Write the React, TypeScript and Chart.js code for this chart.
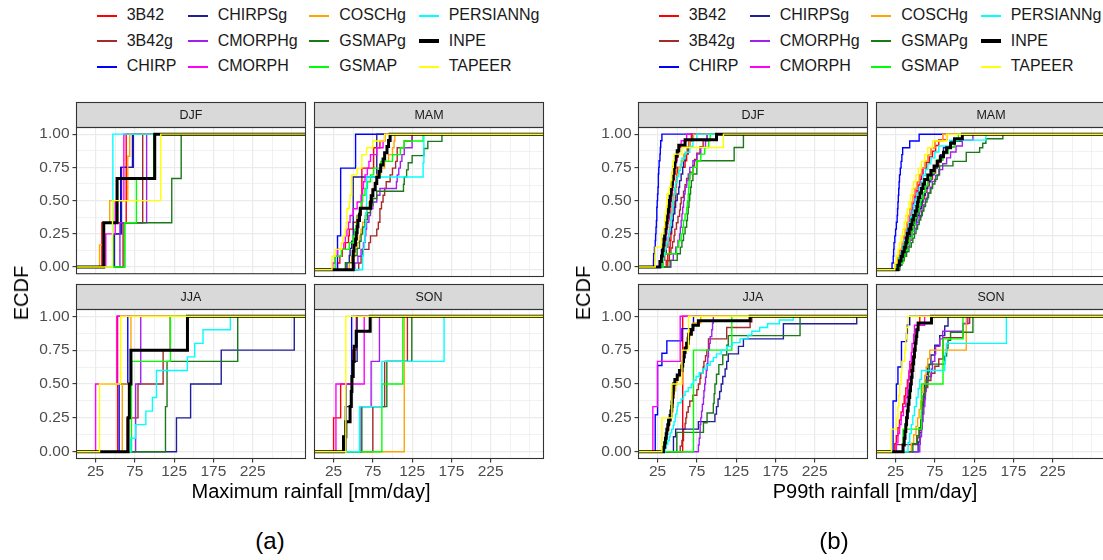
import React, { useEffect, useRef } from "react";
import { Chart, registerables } from "chart.js";

Chart.register(...registerables);

const FONT = "'Liberation Sans', Arial, Helvetica, sans-serif";

// ---------- data ----------
const SERIES = ["3B42", "3B42g", "CHIRP", "CHIRPSg", "CMORPHg", "CMORPH", "COSCHg", "GSMAPg", "GSMAP", "PERSIANNg", "INPE", "TAPEER"];
const SEASONS = ["DJF", "MAM", "JJA", "SON"];

const X_GRID = [25, 50, 75, 100, 125, 150, 175, 200, 225, 250, 275];
const X_LABELS = [25, 75, 125, 175, 225];
const Y_GRID = [0, 0.125, 0.25, 0.375, 0.5, 0.625, 0.75, 0.875, 1];
const Y_LABELS = [0, 0.25, 0.5, 0.75, 1];
const X_LIMITS = [0.7, 292.3];
const Y_LIMITS = [-0.05, 1.05];

// sample values per series (order of SERIES) -- Maximum rainfall
const MAX_DJF = [
  [33, 64, 64],
  [60, 85, 85],
  [48, 57, 57, 72],
  [49, 58, 58, 73],
  [56, 90, 90],
  [38, 50, 61, 61],
  [30, 35, 43, 66, 66, 68.5],
  [62, 122, 134],
  [62, 77, 99],
  [47, 47, 47],
  [35.4, 52.4, 100.3],
  [46.5, 108],
];
const MAX_MAM = [
  [30, 33, 36, 40, 44, 45, 50, 55, 60, 61, 61, 61, 61, 61, 61, 76, 76, 76, 84, 90],
  [57, 60, 62, 70, 72, 80, 82, 84, 84, 86, 88, 90, 92, 97, 100, 104, 106, 106, 115, 125],
  [30, 30, 30, 30, 34, 34, 34, 34, 34, 34, 34, 34, 53, 53, 53, 53],
  [42, 45, 46, 48, 50, 50, 50, 50, 50, 50, 50, 50, 50, 80, 80, 80, 80, 80, 80],
  [52, 56, 60, 63, 65, 66, 67, 70, 72, 75, 80, 84, 105, 106, 108, 110, 112, 115, 125, 125],
  [24, 27, 30, 38, 40, 42, 44, 46, 50, 55, 60, 62, 63, 65, 68, 70, 72, 80, 88, 90],
  [45, 48, 52, 55, 58, 60, 62, 65, 68, 70, 72, 75, 78, 80, 85, 90, 95, 100, 102, 103],
  [40, 50, 55, 58, 60, 62, 65, 68, 72, 75, 80, 114, 115, 118, 120, 125, 140, 145, 163],
  [27, 27, 35, 45, 50, 52, 54, 56, 58, 60, 62, 65, 68, 72, 76, 85, 100, 110, 115, 139],
  [62, 62, 63, 64, 65, 65, 66, 66, 67, 67, 67, 67, 67, 139, 139, 140, 140, 140, 140],
  [50, 50, 50, 51, 53, 54, 55, 56, 58, 59, 72, 73, 75, 78, 80, 83, 85, 88, 90, 93, 95, 97],
  [23, 23, 27, 35, 37, 40, 41, 42, 42, 45, 46, 48, 48, 48, 55, 61, 61, 67, 75, 90],
];
const MAX_JJA = [
  [53],
  [65, 79, 111, 120],
  [55, 66],
  [128, 146, 185, 278],
  [76, 82.5],
  [25, 52],
  [59, 70],
  [114, 116, 206],
  [70.7, 70.7, 120.3],
  [69.8, 76, 89, 97.4, 102.5, 102.5, 141.9, 151.2, 161.8, 196.6],
  [66.4, 68, 70, 142],
  [30, 57],
];
const MAX_SON = [
  [25, 34, 49, 54],
  [75, 90, 119],
  [41, 48],
  [40, 48, 55],
  [60, 72.8, 83.4],
  [28, 64],
  [115],
  [61, 92.8, 124.6],
  [86.5, 113.2],
  [58, 86.5, 165.7],
  [37.6, 40.6, 46, 47.5, 48.3, 50, 51.2, 53.8, 71.6],
  [40.6],
];

// P99th rainfall
const P99_DJF = [
  [36, 38, 40, 41, 42, 43, 44, 45, 46, 47, 48, 48, 49, 49, 50, 60, 62, 64, 65, 68],
  [38, 40, 42, 44, 46, 47, 49, 51, 53, 54, 55, 58, 60, 62, 66, 70, 72, 75, 79, 83, 88],
  [19.8, 20, 21, 22, 22.5, 23, 23.5, 24, 24, 24.5, 25, 25.5, 26, 26, 26.5, 27, 28, 28.5, 29, 30.5],
  [32, 34, 36, 38, 40, 42, 44, 45, 47, 48, 50, 52, 53, 55, 57, 58, 60, 63, 66, 70],
  [42, 45, 48, 51, 53, 54, 55, 56, 57, 58, 59, 60, 62, 64, 66, 70, 75, 80, 86, 88],
  [30, 32, 33, 35, 36, 37, 38, 40, 41, 42, 43, 44, 45, 46, 47, 48, 50, 52, 55, 62],
  [30, 33, 35, 37, 39, 40, 41, 42, 43, 44, 45, 47, 48, 50, 52, 55, 58, 62, 66, 70.7],
  [41, 50, 54, 56, 58, 60, 62, 63, 64, 65, 66, 67, 68, 70, 75, 75, 122.5, 122.5, 134.3, 134.3],
  [32.5, 32.5, 49, 52, 55, 57, 58, 60, 62, 63, 64, 64.5, 65, 66, 70, 75, 80, 85, 90, 92],
  [30, 32, 34, 36, 38, 40, 41, 42, 43, 44, 45, 46, 47, 48, 50, 52, 54, 56, 60, 66, 70, 75],
  [28, 30, 31, 32, 33, 34, 35, 36, 37, 38, 39, 40, 41, 42, 43, 44, 45, 46, 47, 48, 50, 52, 60, 100],
  [22, 22, 22, 30, 30, 33, 34, 35, 36, 37, 37, 40, 42, 43, 44, 45, 46, 56, 108.8, 108.8],
];
const P99_MAM = [
  [24, 28, 31, 33, 35, 37, 39, 41, 43, 45, 46, 48, 50, 52, 54, 56, 58, 60, 64, 68, 72, 76, 80, 90],
  [30, 33, 36, 38, 41, 44, 47, 50, 53, 56, 59, 62, 65, 68, 72, 76, 80, 85, 90, 100, 110],
  [20.5, 22, 22.5, 23, 24, 25, 26, 27, 27.5, 28, 28.5, 29, 29.5, 30, 31, 32, 33, 34, 43, 55],
  [30, 34, 37, 40, 43, 46, 49, 52, 55, 58, 60, 63, 66, 70, 74, 78, 82, 86, 95, 110],
  [30, 33, 36, 40, 43, 46, 49, 52, 55, 58, 60, 63, 66, 69, 72, 76, 80, 85, 90, 95, 102, 110, 123.5],
  [26, 29, 32, 35, 37, 39, 41, 43, 45, 47, 49, 51, 53, 56, 59, 62, 66, 70, 75, 85],
  [24, 27, 30, 33, 35, 37, 39, 41, 43, 45, 47, 49, 52, 55, 58, 62, 66, 70, 75, 85],
  [30, 33, 36, 39, 42, 45, 47, 49, 51, 53, 55, 57, 59, 61, 63, 65, 67, 70, 72, 75, 78, 81, 81, 98, 115, 115, 132, 136, 140, 161.6],
  [30, 34, 37, 40, 43, 46, 48, 50, 52, 55, 57, 60, 63, 66, 70, 74, 78, 85, 92, 100, 105],
  [26, 29, 32, 34, 36, 38, 40, 42, 44, 46, 48, 50, 52, 55, 58, 60, 63, 66, 70, 75, 80, 94, 140],
  [28, 30, 32, 34, 36, 38, 39, 40, 42, 44, 46, 48, 50, 52, 53, 54, 56, 58, 60, 62, 66, 70, 74, 78, 82, 86, 90, 95, 100, 110],
  [24, 26, 28, 30, 32, 34, 36, 38, 40, 42, 44, 46, 48, 51, 54, 58, 62, 66, 72, 90],
];
const P99_JJA = [
  [57],
  [53.8, 56, 58, 58, 60, 61, 62, 64, 66, 70, 75, 77, 79, 80, 83, 84, 86, 87.7, 89.8, 89.8, 113, 113, 142.8, 145],
  [22, 22, 22, 25, 25, 25, 25, 30.5, 36.8, 56, 70.7],
  [45.2, 45.2, 48, 77, 98, 100, 102, 104, 106, 108, 111, 113, 115, 128, 134.3, 185.2, 185.2, 278.6],
  [77, 78, 79, 79.2, 80, 81, 82, 83.4, 84, 85, 86, 87, 88, 89, 89.8, 91, 92, 94, 95, 96],
  [19, 24.9, 53.8],
  [33, 35, 37, 39, 41, 43, 44, 45, 46, 48, 50, 52, 55, 57, 59, 61, 63, 66, 70, 80],
  [49.5, 49.5, 83.4, 88, 96, 97, 98, 100, 103, 108, 113, 115, 206.4, 206.4],
  [70.7, 70.7, 70.7, 119.5],
  [34.7, 36, 38, 40, 41, 43, 45, 46, 47.4, 48, 49.5, 50, 51, 55, 58, 60, 64, 68, 70.7, 74, 78, 83, 87, 92, 96, 100, 106, 113, 120, 130, 140, 145, 155, 165, 180, 197.9],
  [32.5, 34, 35, 36, 36.8, 38, 39, 41, 42, 43, 43.5, 44, 44.5, 45, 45.2, 47, 50, 53, 56, 57, 58, 59, 60, 62, 64, 64.5, 68, 70, 77, 142.8],
  [30.5, 43.2, 56, 64.3],
];
const P99_SON = [
  [24, 26, 28, 30, 32, 34, 36, 38, 40, 42, 44, 46, 48, 50, 52, 53, 55.8],
  [26, 53, 55, 57, 58, 59, 60, 62, 63, 66, 70, 75, 80, 85.4, 85.4, 85.4, 110.8, 110.8, 119.3],
  [21.8, 21.8, 21.8, 21.8, 21.8, 21.8, 26, 26, 28, 28, 32.5, 32.5, 32.5, 38.9, 40, 43],
  [53.7, 56, 58, 59, 60, 61, 62, 64.3, 66, 70, 74.9, 81.2, 87.6, 91.8],
  [55.8, 56.5, 58, 59, 60, 61, 62.2, 63, 64, 66, 70.7, 72, 74.9, 76, 81.2, 85, 110.8, 117],
  [26, 28, 30, 32, 35, 38, 40, 41, 42, 43, 45, 46, 48, 49, 62],
  [45, 48, 51, 53, 55, 57, 58, 60, 62, 64, 66, 68.5, 115, 115, 115, 115],
  [47, 52, 55, 57, 58, 59, 60, 62, 64, 67, 68, 87.6, 90, 91.8, 95, 123.5, 123.5],
  [34.5, 34.5, 58, 58, 58, 58, 85.4, 85.4, 85.4, 85.4, 110.8, 110.8],
  [40.9, 43, 45, 47, 49, 51.6, 53.7, 55.8, 58, 87.6, 88.5, 89.7, 166.1, 166.1, 166.1],
  [34.5, 36, 37, 38, 39, 40, 41, 42, 43, 44, 45, 46, 47, 48, 49, 50, 51, 52, 53.7, 70.7],
  [19.8, 19.8, 26, 28, 29, 30.3, 32, 33, 36.7, 38, 39, 40.9],
];

// ---------- styles ----------
const SERIES_COLORS = ["#FF0000", "#A52A2A", "#0000FF", "#1F1F99", "#A020F0", "#FF00FF", "#FFA500", "#1A7A1A", "#00FF00", "#00FFFF", "#000000", "#FFFF00"];
const SERIES_WIDTHS = [1.4, 1.4, 1.4, 1.4, 1.4, 1.4, 1.4, 1.4, 1.4, 1.4, 3, 1.4];
const LEGEND_ORDER = [
  [0, 1, 2],
  [3, 4, 5],
  [6, 7, 8],
  [9, 10, 11],
];

// ---------- layout ----------
const PANEL_W = 229;
const PANEL_H = 149;
const STRIP_H = 25;
const COL_LEFT = [76.5, 314.5];
const STRIP_TOP = [102.5, 284.5];
const SUB_OFFSET = [0, 562];

const SUBFIGS = [
  { title: "Maximum rainfall [mm/day]", tag: "(a)", facets: [MAX_DJF, MAX_MAM, MAX_JJA, MAX_SON], titleX: 311, tagX: 270 },
  { title: "P99th rainfall [mm/day]", tag: "(b)", facets: [P99_DJF, P99_MAM, P99_JJA, P99_SON], titleX: 875, tagX: 834 },
];

function ecdfPoints(values: number[]) {
  const s = [...values].sort((a, b) => a - b);
  const n = s.length;
  const pts = [{ x: X_LIMITS[0], y: 0 }];
  s.forEach((v, i) => pts.push({ x: v, y: (i + 1) / n }));
  pts.push({ x: X_LIMITS[1], y: 1 });
  return pts;
}

const facetFrame = {
  id: "facetFrame",
  afterDraw(chart: any, _args: any, opts: any) {
    const { ctx, chartArea: a } = chart;
    ctx.save();
    ctx.fillStyle = "#D9D9D9";
    ctx.fillRect(a.left, a.top - STRIP_H, a.right - a.left, STRIP_H);
    ctx.strokeStyle = "#333333";
    ctx.lineWidth = 1.1;
    ctx.strokeRect(a.left, a.top - STRIP_H, a.right - a.left, STRIP_H);
    ctx.strokeRect(a.left, a.top, a.right - a.left, a.bottom - a.top);
    ctx.fillStyle = "#1A1A1A";
    ctx.font = `12.5px ${FONT}`;
    ctx.textAlign = "center";
    ctx.textBaseline = "middle";
    ctx.fillText(opts.text, (a.left + a.right) / 2, a.top - STRIP_H / 2 + 0.5);
    ctx.restore();
  },
};

type FacetProps = { values: number[][]; season: string; panelLeft: number; stripTop: number; showY: boolean; showX: boolean };

function Facet({ values, season, panelLeft, stripTop, showY, showX }: FacetProps) {
  const ref = useRef<HTMLCanvasElement>(null);
  const yw = showY ? 76.5 : 2.5;
  const xh = showX ? 29.5 : 0;
  const padTop = STRIP_H + 2.5;
  const padBottom = showX ? 0 : 9.5;
  const left = panelLeft - yw;
  const top = stripTop - 2.5;
  const width = yw + PANEL_W + 2.5;
  const height = padTop + PANEL_H + xh + padBottom;

  useEffect(() => {
    if (!ref.current) return;
    const datasets = SERIES.map((name, i) => ({
      label: name,
      data: ecdfPoints(values[i]),
      borderColor: SERIES_COLORS[i],
      backgroundColor: SERIES_COLORS[i],
      borderWidth: SERIES_WIDTHS[i],
      pointRadius: 0,
      stepped: "before" as const,
      fill: false,
      tension: 0,
    })).reverse();

    const chart = new Chart(ref.current, {
      type: "line",
      data: { datasets },
      plugins: [facetFrame],
      options: {
        responsive: false,
        animation: false,
        devicePixelRatio: 1,
        events: [],
        layout: { padding: { top: padTop, right: 2.5, bottom: padBottom, left: 0 } },
        plugins: {
          legend: { display: false },
          tooltip: { enabled: false },
          facetFrame: { text: season },
        } as any,
        scales: {
          x: {
            type: "linear",
            min: X_LIMITS[0],
            max: X_LIMITS[1],
            afterBuildTicks: (s: any) => {
              s.ticks = X_GRID.map((v) => ({ value: v }));
            },
            afterFit: (s: any) => {
              s.height = xh;
            },
            border: { display: false },
            grid: {
              color: "#EBEBEB",
              lineWidth: (c: any) => (c.tick && X_LABELS.includes(c.tick.value) ? 1.2 : 0.7),
              drawTicks: showX,
              tickLength: 4,
              tickWidth: 1.1,
              tickColor: (c: any) => (c.tick && X_LABELS.includes(c.tick.value) ? "#333333" : "rgba(0,0,0,0)"),
            },
            ticks: {
              display: showX,
              autoSkip: false,
              maxRotation: 0,
              minRotation: 0,
              padding: 0,
              color: "#4D4D4D",
              font: { family: FONT, size: 15.5 },
              callback: (v: any) => (X_LABELS.includes(Number(v)) ? String(v) : ""),
            },
          },
          y: {
            type: "linear",
            min: Y_LIMITS[0],
            max: Y_LIMITS[1],
            afterBuildTicks: (s: any) => {
              s.ticks = Y_GRID.map((v) => ({ value: v }));
            },
            afterFit: (s: any) => {
              s.width = yw;
            },
            border: { display: false },
            grid: {
              color: "#EBEBEB",
              lineWidth: (c: any) => (c.tick && Y_LABELS.includes(c.tick.value) ? 1.2 : 0.7),
              drawTicks: showY,
              tickLength: 4,
              tickWidth: 1.1,
              tickColor: (c: any) => (c.tick && Y_LABELS.includes(c.tick.value) ? "#333333" : "rgba(0,0,0,0)"),
            },
            ticks: {
              display: showY,
              autoSkip: false,
              padding: 3,
              color: "#4D4D4D",
              font: { family: FONT, size: 15.5 },
              callback: (v: any) => (Y_LABELS.includes(Number(v)) ? Number(v).toFixed(2) : ""),
            },
          },
        },
      },
    });
    return () => chart.destroy();
  }, [values, season]);

  return (
    <canvas
      ref={ref}
      width={width}
      height={height}
      style={{ position: "absolute", left, top, width, height }}
    />
  );
}

function Legend({ offset }: { offset: number }) {
  const keyX = [96.7, 188.3, 309.3, 419.2];
  const textX = [126.7, 217.7, 339.3, 448.7];
  const rowY = [15.5, 41, 66.5];
  const items: React.ReactNode[] = [];
  LEGEND_ORDER.forEach((col, ci) => {
    col.forEach((si, ri) => {
      const th = si === 10 ? 3.5 : 2;
      items.push(
        <div key={`k${si}`} style={{ position: "absolute", left: offset + keyX[ci], top: rowY[ri] - th / 2, width: 20, height: th, background: SERIES_COLORS[si] }} />
      );
      items.push(
        <div key={`t${si}`} style={{ position: "absolute", left: offset + textX[ci], top: rowY[ri] - 9.3, fontSize: 16, lineHeight: "18px", color: "#1A1A1A", whiteSpace: "nowrap" }}>
          {SERIES[si]}
        </div>
      );
    });
  });
  return <>{items}</>;
}

export default function App() {
  return (
    <div style={{ position: "absolute", left: 0, top: 0, width: 1103, height: 560, overflow: "hidden", background: "#FFFFFF", fontFamily: FONT }}>
      {SUBFIGS.map((sf, k) => (
        <React.Fragment key={sf.tag}>
          <Legend offset={SUB_OFFSET[k]} />
          {sf.facets.map((vals, fi) => {
            const col = fi % 2;
            const row = Math.floor(fi / 2);
            return (
              <Facet
                key={`${sf.tag}-${fi}`}
                values={vals}
                season={SEASONS[fi]}
                panelLeft={SUB_OFFSET[k] + COL_LEFT[col]}
                stripTop={STRIP_TOP[row]}
                showY={col === 0}
                showX={row === 1}
              />
            );
          })}
          <div style={{ position: "absolute", left: SUB_OFFSET[k] + 21, top: 293, transform: "translate(-50%, -50%) rotate(-90deg)", fontSize: 20, lineHeight: "20px", color: "#000", whiteSpace: "nowrap" }}>
            ECDF
          </div>
          <div style={{ position: "absolute", left: sf.titleX, top: 481.4, transform: "translateX(-50%)", fontSize: 20, lineHeight: "20px", color: "#000", whiteSpace: "nowrap" }}>
            {sf.title}
          </div>
          <div style={{ position: "absolute", left: sf.tagX, top: 528.7, transform: "translateX(-50%)", fontSize: 24, lineHeight: "24px", color: "#000", whiteSpace: "nowrap" }}>
            {sf.tag}
          </div>
        </React.Fragment>
      ))}
    </div>
  );
}
